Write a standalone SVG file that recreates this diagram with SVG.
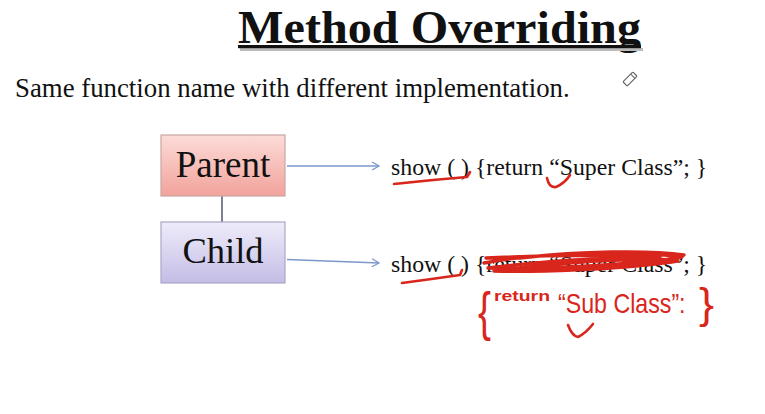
<svg xmlns="http://www.w3.org/2000/svg" width="765" height="414" viewBox="0 0 765 414">
<style>
.serif{font-family:"Liberation Serif","Times New Roman",serif;fill:#111}
.box{stroke-width:1.2}
.arrow{stroke:#7b98cc;stroke-width:1.3;fill:none}
.ink{stroke:#d8261c;fill:none;stroke-linecap:round;stroke-linejoin:round}
.hand{font-family:"Liberation Sans",Arial,sans-serif;fill:#d8261c}
</style>
<defs>
<linearGradient id="gP" x1="0" y1="0" x2="0" y2="1">
<stop offset="0" stop-color="#fcdcd8"/><stop offset="1" stop-color="#f2a29b"/>
</linearGradient>
<linearGradient id="gC" x1="0" y1="0" x2="0" y2="1">
<stop offset="0" stop-color="#efecfa"/><stop offset="1" stop-color="#c3bde6"/>
</linearGradient>
<marker id="ah" markerWidth="10" markerHeight="10" refX="8" refY="5" orient="auto" markerUnits="userSpaceOnUse">
<path d="M1,1 L8,5 L1,9" fill="none" stroke="#7b98cc" stroke-width="1.3"/>
</marker>
</defs>
<rect width="765" height="414" fill="#ffffff"/>

<g id="title">
<text x="238" y="43" class="serif" font-size="47" font-weight="bold" textLength="403" lengthAdjust="spacingAndGlyphs">Method Overriding</text>
<rect x="240" y="48" width="403" height="3" fill="#bbbbbb"/>
<rect x="238" y="45" width="403" height="3.2" fill="#111"/>
</g>
<text id="subtitle" x="15" y="97" class="serif" font-size="26.8">Same function name with different implementation.</text>

<g id="connectors">
<line x1="222" y1="196" x2="222" y2="222" stroke="#5b6178" stroke-width="1.6"/>
<line x1="287" y1="166" x2="379" y2="166" class="arrow" marker-end="url(#ah)"/>
<line x1="287" y1="259.5" x2="379" y2="263" class="arrow" marker-end="url(#ah)"/>
</g>

<g id="parent">
<rect x="161" y="135" width="124" height="61" fill="url(#gP)" stroke="#c9a6a3" class="box"/>
<text x="223" y="177" class="serif" font-size="37" text-anchor="middle">Parent</text>
</g>
<g id="child">
<rect x="161" y="222" width="124" height="61" fill="url(#gC)" stroke="#aaa8c6" class="box"/>
<text x="223" y="263" class="serif" font-size="36.5" text-anchor="middle">Child</text>
</g>

<g id="code-parent">
<text x="391" y="175" class="serif" font-size="23.8">show ( ) {return “Super Class”; }</text>
</g>
<g id="code-child">
<text x="391" y="272" class="serif" font-size="23.8">show ( ) {return “Super Class”; }</text>
</g>

<g id="annotations">
<path class="ink" stroke-width="2.6" d="M394,184 Q430,180 467,177 L470,172"/>
<path class="ink" stroke-width="2.6" d="M547,178 Q549,188 556,187 Q565,183 570,175"/>
<path class="ink" stroke-width="2.6" d="M402,283 Q432,279 460,275 L462,270"/>
<path class="ink" stroke-width="3.4" d="M484,263 C540,252 640,251 682,257 C640,265 540,269 488,268 C560,259 640,255 678,261 C620,270 530,272 494,271 C560,262 630,258 670,260 M520,258 C580,251 650,250 684,255 M486,258 C530,256 600,254 660,258"/>
<text x="478" y="330" class="hand" font-size="54" textLength="13" lengthAdjust="spacingAndGlyphs">{</text>
<text x="494" y="301" class="hand" font-size="15" font-weight="bold" textLength="56" lengthAdjust="spacingAndGlyphs">return</text>
<text x="558" y="261" class="hand" font-size="23.2" transform="scale(1,1.2)">“Sub Class”:</text>
<text x="699" y="318" class="hand" font-size="42" textLength="15" lengthAdjust="spacingAndGlyphs">}</text>
<path class="ink" stroke-width="2.6" d="M568,325 Q572,336 578,337 Q586,333 593,324"/>
</g>

<g id="cursor" transform="translate(630,79) rotate(45)">
<rect x="-3" y="-7" width="6" height="14" rx="1" fill="#fff" stroke="#666" stroke-width="1.2"/>
<line x1="-3" y1="-4" x2="3" y2="-4" stroke="#666" stroke-width="1"/>
</g>
</svg>
